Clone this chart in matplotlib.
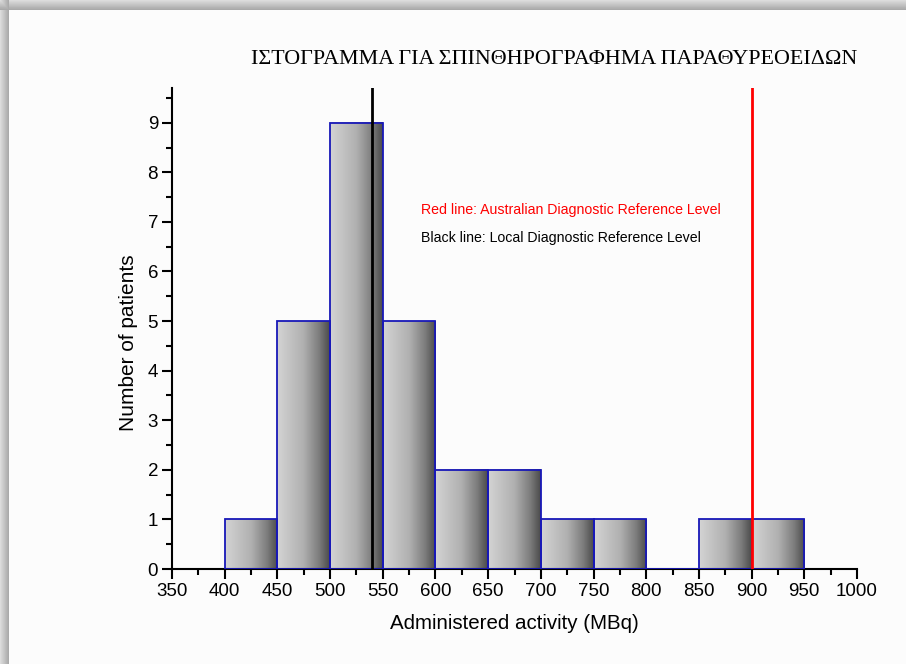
import numpy as np
import matplotlib.pyplot as plt
from matplotlib.colors import LinearSegmentedColormap

# histogram data
bin_edges = [400, 450, 500, 550, 600, 650, 700, 750, 800, 850, 900, 950]
counts = [1, 5, 9, 5, 2, 2, 1, 1, 0, 1, 1]
local_drl = 540
australian_drl = 900
title = "ΙΣΤΟΓΡΑΜΜΑ ΓΙΑ ΣΠΙΝΘΗΡΟΓΡΑΦΗΜΑ ΠΑΡΑΘΥΡΕΟΕΙΔΩΝ"
xticks = list(range(350, 1001, 50))
yticks = list(range(0, 10))

plt.rcParams['font.family'] = ['Liberation Sans', 'DejaVu Sans']

W, H = 906, 664
fig = plt.figure(figsize=(W / 100, H / 100), dpi=100)

# page background with drop shadow on top/left
bg = fig.add_axes([0, 0, 1, 1])
img = np.full((H, W), 0.985)
yy, xx = np.mgrid[0:H, 0:W]
top = np.where(yy < 10, 0.86 - 0.22 * (yy / 10), 1.0)
left = np.where(xx < 9, 0.86 - 0.22 * (xx / 9), 1.0)
img = np.minimum(img, np.minimum(top, left))
bg.imshow(img, cmap='gray', vmin=0, vmax=1, aspect='auto', interpolation='nearest')
bg.axis('off')

ax = fig.add_axes([172 / W, 1 - 569 / H, (857 - 172) / W, (569 - 88) / H])
ax.patch.set_alpha(0)

cmap = LinearSegmentedColormap.from_list(
    'bar', [(0, '#d4d4d4'), (0.5, '#b0b0b0'), (0.8, '#7c7c7c'), (1, '#4a4a4a')])
grad = np.linspace(0, 1, 256).reshape(1, -1)

widths = np.diff(bin_edges)
bars = ax.bar(bin_edges[:-1], counts, width=widths, align='edge',
              facecolor='none', edgecolor='#1818b8', linewidth=1.3, zorder=3)
for b in bars:
    if b.get_height() > 0:
        ax.imshow(grad, cmap=cmap, aspect='auto', zorder=2,
                  extent=[b.get_x(), b.get_x() + b.get_width(), 0, b.get_height()])

ax.axvline(local_drl, color='black', linewidth=2, zorder=4)
ax.axvline(australian_drl, color='red', linewidth=2, zorder=4)

ax.text(421 / W, 1 - 210 / H, "Red line: Australian Diagnostic Reference Level",
        transform=fig.transFigure, color='red', fontsize=10.2, va='center')
ax.text(421 / W, 1 - 238 / H, "Black line: Local Diagnostic Reference Level",
        transform=fig.transFigure, color='black', fontsize=10.2, va='center')

ax.set_xlim(350, 1000)
ax.set_ylim(0, 9.7)
ax.set_xticks(xticks)
ax.set_yticks(yticks)
ax.set_xticks(np.arange(375, 1000, 50), minor=True)
ax.set_yticks(np.arange(0.5, 9.6, 1), minor=True)
ax.tick_params(which='major', direction='out', length=7, width=1.5, labelsize=13.5, pad=3)
ax.tick_params(which='minor', direction='out', length=4, width=1.5)
for s in ['top', 'right']:
    ax.spines[s].set_visible(False)
for s in ['left', 'bottom']:
    ax.spines[s].set_linewidth(1.5)

ax.set_xlabel("Administered activity (MBq)", fontsize=14.8, labelpad=10)
ax.set_ylabel("Number of patients", fontsize=15)
ax.yaxis.set_label_coords(-0.05, 0.47)

fig.text(554 / W, 1 - 60 / H, title, family=['Liberation Serif', 'DejaVu Serif'],
         fontsize=15.8, ha='center', va='center')

fig.savefig('out.png', dpi=100)
